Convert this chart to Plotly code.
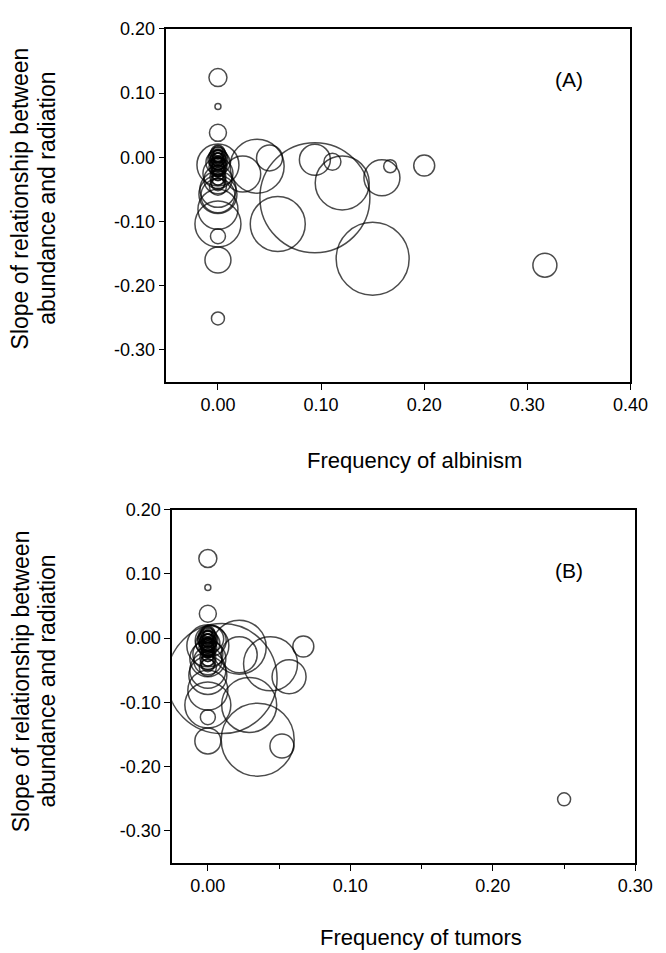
import plotly.graph_objects as go

# Slope of relationship between abundance and radiation (one entry per species/population)
slope = [-0.063, -0.104, -0.014, -0.026, -0.001, -0.004, -0.007, -0.040, -0.032, -0.014,
         -0.158, -0.013, -0.168, 0.124, 0.079, 0.038, -0.123, -0.160, -0.251, -0.104,
         -0.081, -0.060, -0.058, -0.012, -0.050, -0.025, -0.035, -0.008,
         0.010, 0.008, 0.006, 0.004, 0.002, 0.001, 0.000, -0.001, -0.002, -0.003,
         -0.004, -0.005, -0.006, -0.008, -0.009, -0.010, -0.011, -0.013, -0.015, -0.017,
         -0.019, -0.021, -0.023, -0.025, -0.028, -0.031, -0.034, -0.038, -0.042, -0.046]
# Bubble size (sample size, shown as circle diameter)
bubble = [110, 55, 54, 36, 26, 31, 17, 54, 36, 13,
          73, 21, 24, 18, 6, 17, 15, 26, 13, 46,
          40, 34, 38, 42, 36, 30, 28, 24,
          10, 14, 8, 16, 12, 18, 9, 15, 11, 20,
          13, 7, 17, 10, 14, 12, 16, 11, 18, 13,
          15, 12, 9, 14, 11, 16, 12, 15, 13, 17]
# Frequency of albinism
albinism = [0.094, 0.058, 0.038, 0.024, 0.050, 0.094, 0.111, 0.1205, 0.159, 0.167,
            0.150, 0.200, 0.317, 0, 0, 0, 0, 0, 0, 0,
            0, 0, 0, 0, 0, 0, 0, 0] + [0] * 30
# Frequency of tumors
tumors = [0.010, 0.029, 0.022, 0.022, 0.002, 0.002, 0.0, 0.044, 0.0, 0.0,
          0.035, 0.067, 0.052, 0, 0, 0, 0, 0, 0.250, 0,
          0, 0.057, 0, 0, 0, 0, 0, 0] + [0] * 30

x_ticks_a = [0.0, 0.1, 0.2, 0.3, 0.4]
x_ticks_b = [0.0, 0.1, 0.2, 0.3]
y_ticks = [-0.3, -0.2, -0.1, 0.0, 0.1, 0.2]

W, H = 666, 953
FONT = "Liberation Sans, Arial, Helvetica, sans-serif"

def lab(v):
    return f"{v:.2f}"

def px_x(p):
    return p / W

def px_y(p):
    return 1 - p / H

marker = dict(size=bubble, sizemode="diameter", sizeref=1, color="rgba(0,0,0,0)",
              line=dict(color="black", width=1.5))

fig = go.Figure()
fig.add_trace(go.Scatter(x=albinism, y=slope, mode="markers", marker=marker,
                         xaxis="x", yaxis="y", showlegend=False))
fig.add_trace(go.Scatter(x=tumors, y=slope, mode="markers", marker=marker,
                         xaxis="x2", yaxis="y2", showlegend=False))

axis_common = dict(showline=True, mirror=True, linecolor="black", linewidth=1.6,
                   ticks="outside", ticklen=6, tickwidth=1.4, tickcolor="black",
                   showgrid=False, zeroline=False,
                   tickfont=dict(family=FONT, size=18, color="black"))

fig.update_layout(
    width=W, height=H,
    margin=dict(l=0, r=0, t=0, b=0),
    paper_bgcolor="white", plot_bgcolor="white",
    font=dict(family=FONT, color="black"),
    xaxis=dict(domain=[px_x(171), px_x(648)], range=[-0.05, 0.40], tickvals=x_ticks_a,
               ticktext=[lab(v) for v in x_ticks_a], anchor="y", **axis_common),
    yaxis=dict(domain=[px_y(376), px_y(19)], range=[-0.35, 0.20], tickvals=y_ticks,
               ticktext=[lab(v) for v in y_ticks], anchor="x", **axis_common),
    xaxis2=dict(domain=[px_x(177), px_x(653)], range=[-0.025, 0.30], tickvals=x_ticks_b,
                ticktext=[lab(v) for v in x_ticks_b], anchor="y2",
                minor=dict(ticks="outside", ticklen=4, tickwidth=1.2, tickcolor="black",
                           dtick=0.05, tick0=0, showgrid=False),
                **axis_common),
    yaxis2=dict(domain=[px_y(862), px_y(505)], range=[-0.35, 0.20], tickvals=y_ticks,
                ticktext=[lab(v) for v in y_ticks], anchor="x2", **axis_common),
)

ann = [
    dict(text="Frequency of albinism", x=px_x(426), y=px_y(455), xanchor="center", yanchor="middle",
         font=dict(size=22)),
    dict(text="Frequency of tumors", x=px_x(433), y=px_y(937), xanchor="center", yanchor="middle",
         font=dict(size=22)),
    dict(text="Slope of relationship between", x=px_x(21), y=px_y(190), textangle=-90,
         xanchor="center", yanchor="middle", font=dict(size=23)),
    dict(text="abundance and radiation", x=px_x(48), y=px_y(190), textangle=-90,
         xanchor="center", yanchor="middle", font=dict(size=23)),
    dict(text="Slope of relationship between", x=px_x(21), y=px_y(678), textangle=-90,
         xanchor="center", yanchor="middle", font=dict(size=23)),
    dict(text="abundance and radiation", x=px_x(48), y=px_y(678), textangle=-90,
         xanchor="center", yanchor="middle", font=dict(size=23)),
    dict(text="(A)", x=px_x(585), y=px_y(70), xanchor="center", yanchor="middle", font=dict(size=21)),
    dict(text="(B)", x=px_x(585), y=px_y(566), xanchor="center", yanchor="middle", font=dict(size=21)),
]
for a in ann:
    a.update(xref="paper", yref="paper", showarrow=False)
    a["font"].update(family=FONT, color="black")
fig.update_layout(annotations=ann)

fig.write_html("out.html", config={"displayModeBar": False},
               post_script="document.body.style.margin='0';")
